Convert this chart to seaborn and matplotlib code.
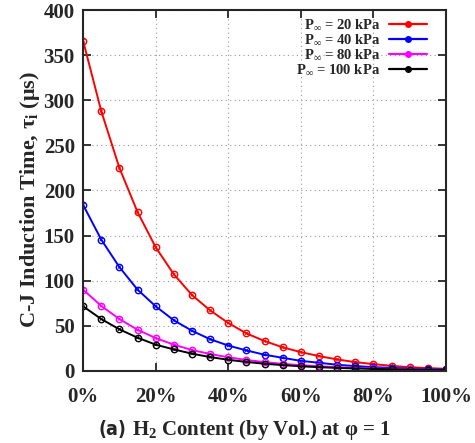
import matplotlib
matplotlib.use('Agg')
import numpy as np
import pandas as pd
import matplotlib.pyplot as plt
from matplotlib.ticker import MultipleLocator, FuncFormatter
from matplotlib.lines import Line2D
import seaborn as sns

h2_content = [0, 5, 10, 15, 20, 25, 30, 35, 40, 45, 50, 55, 60, 65, 70, 75, 80, 85, 90, 95, 100]
tau_20kpa = [366, 288, 225, 176, 137, 107, 84, 67, 53, 41.5, 33, 26, 20.7, 16.3, 12.6, 9.6, 7.4, 5.5, 4.0, 3.0, 2.2]
tau_40kpa = [184, 145.5, 115, 90, 71.5, 56, 44.4, 35, 28, 22.6, 17.8, 14.4, 11, 8.9, 6.7, 5.2, 4.1, 3.2, 2.5, 2.0, 1.5]
tau_80kpa = [90, 72, 57.4, 45.5, 36.3, 29, 23, 18.6, 15, 12, 9.6, 7.7, 6.2, 5.0, 4.0, 3.2, 2.6, 2.1, 1.7, 1.4, 1.1]
tau_100kpa = [71.5, 57.4, 46, 36.7, 29, 23.7, 19, 15.2, 12.2, 9.8, 7.8, 6.3, 5.0, 4.0, 3.2, 2.6, 2.1, 1.7, 1.3, 1.1, 0.9]

labels = [r'P$_\mathbf{\infty}$ = 20 kPa', r'P$_\mathbf{\infty}$ = 40 kPa',
          r'P$_\mathbf{\infty}$ = 80 kPa', r'P$_\mathbf{\infty}$ = 100 kPa']
colors = ['#ff0000', '#0000ff', '#ff00ff', '#000000']

frames = []
for lab, vals in zip(labels, [tau_20kpa, tau_40kpa, tau_80kpa, tau_100kpa]):
    frames.append(pd.DataFrame({'h2': h2_content, 'tau': vals, 'case': lab}))
data = pd.concat(frames, ignore_index=True)

sns.set_style('ticks')
plt.rcParams['font.family'] = ['Liberation Serif', 'DejaVu Serif']
plt.rcParams['font.weight'] = 'bold'
plt.rcParams['mathtext.fontset'] = 'custom'
plt.rcParams['mathtext.rm'] = 'Liberation Serif:bold'
plt.rcParams['mathtext.it'] = 'Liberation Serif:bold'
plt.rcParams['mathtext.bf'] = 'Liberation Serif:bold'

fig = plt.figure(figsize=(4.75, 4.43), dpi=100)
ax = fig.add_axes([0.175, 0.163, 0.764, 0.814])

# lines with open circles
sns.lineplot(data=data, x='h2', y='tau', hue='case', palette=colors, marker='o',
             markersize=4.6, markerfacecolor='none', markeredgewidth=1.0,
             linewidth=1.4, ax=ax, legend=False)
for line, c in zip(ax.lines, colors):
    line.set_markeredgecolor(c)
# small cross inside each circle
sns.scatterplot(data=data, x='h2', y='tau', hue='case', palette=colors, marker='x',
                s=5, linewidth=0.7, ax=ax, legend=False)

ax.set_xlim(0, 100)
ax.set_ylim(0, 400)
ax.xaxis.set_major_locator(MultipleLocator(20))
ax.yaxis.set_major_locator(MultipleLocator(50))
ax.xaxis.set_major_formatter(FuncFormatter(lambda v, p: '{:d}%'.format(int(v))))
ax.grid(True, linestyle=(0, (1, 3)), color='#999999', linewidth=0.8)
ax.tick_params(direction='in', top=True, right=True, length=6, width=1.3,
               labelsize=15)
ax.tick_params(axis='x', pad=12)
ax.tick_params(axis='y', pad=6)
for lbl in ax.get_xticklabels() + ax.get_yticklabels():
    lbl.set_fontweight('bold')
for axis in ['top', 'bottom', 'left', 'right']:
    ax.spines[axis].set_linewidth(1.5)

ax.set_ylabel(r'C-J Induction Time, $\mathbf{\tau}_\mathbf{i}$ ($\mathbf{\mu}$s)',
              fontsize=16, fontweight='bold')
ax.yaxis.set_label_coords(-0.112, 0.474)
ax.set_xlabel('')
fig.text(0.208, 0.019, '(a)', fontsize=14, fontweight='bold', family='DejaVu Sans',
         fontstretch='condensed')
fig.text(0.278, 0.019, r'H$_\mathbf{2}$ Content (by Vol.) at $\mathbf{\varphi}$ = 1',
         fontsize=15, fontweight='bold')

handles = [Line2D([], [], color=c, linewidth=1.6, marker='o', markersize=4,
                  markerfacecolor=c, markeredgecolor=c) for c in colors]
leg = ax.legend(handles, labels, loc='upper right', frameon=False, markerfirst=False,
                fontsize=10.5, handlelength=2.6, handletextpad=0.6, labelspacing=0.05,
                borderpad=0, borderaxespad=0, bbox_to_anchor=(0.948, 0.978))
for t in leg.get_texts():
    t.set_fontweight('bold')

plt.savefig('out.png', dpi=100)
plt.close()
